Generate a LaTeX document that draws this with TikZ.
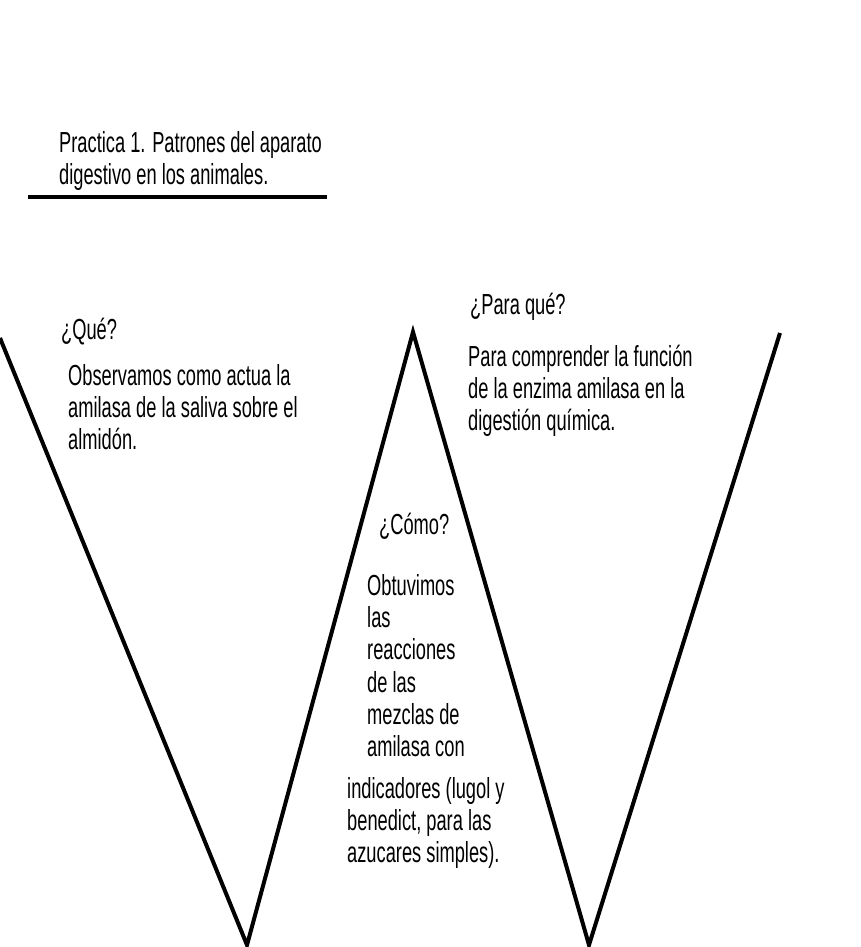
\documentclass[tikz,border=0pt]{standalone}
\usepackage{fontspec}
\setmainfont{Liberation Sans}[FakeStretch=0.63]
\begin{document}
\begin{tikzpicture}[x=1pt,y=-1pt,
  txt/.style={anchor=base west,inner sep=0pt,font=\fontsize{29}{32}\selectfont},
  heavy/.style={line width=4pt,line join=miter}]
\useasboundingbox (0,0) rectangle (861,947);
% title
\node[txt] (t1) at (59,152) {Practica 1. Patrones del aparato};
\node[txt] (t2) at (59,184) {digestivo en los animales.};
\coordinate (ul) at (28,197);
\coordinate (ur) at (327,197);
\draw[line width=4pt] (ul) -- (ur);
% W shape
\coordinate (w1) at (0,338);
\coordinate (w2) at (247,945);
\coordinate (w3) at (413,332);
\coordinate (w4) at (589,945);
\coordinate (w5) at (780,333);
\draw[heavy] (w1) -- (w2) -- (w3) -- (w4) -- (w5);
% Que
\node[txt] (q0) at (61,339) {¿Qué?};
\node[txt] (q1) at (68,385) {Observamos como actua la};
\node[txt] (q2) at (68,417) {amilasa de la saliva sobre el};
\node[txt] (q3) at (68,449) {almidón.};
% Para que
\node[txt] (p0) at (470,314) {¿Para qué?};
\node[txt] (p1) at (468,366) {Para comprender la función};
\node[txt] (p2) at (468,398) {de la enzima amilasa en la};
\node[txt] (p3) at (468,430) {digestión química.};
% Como
\node[txt] (c0) at (379,534) {¿Cómo?};
\node[txt] (c1) at (367,595) {Obtuvimos};
\node[txt] (c2) at (367,627) {las};
\node[txt] (c3) at (367,659) {reacciones};
\node[txt] (c4) at (367,692) {de las};
\node[txt] (c5) at (367,724) {mezclas de};
\node[txt] (c6) at (367,756) {amilasa con};
\node[txt] (c7) at (347,798) {indicadores (lugol y};
\node[txt] (c8) at (347,830) {benedict, para las};
\node[txt] (c9) at (347,862) {azucares simples).};
\end{tikzpicture}
\end{document}
